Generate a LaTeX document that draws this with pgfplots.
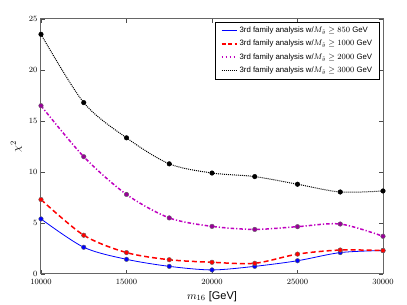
\documentclass[border=0pt]{standalone}
\usepackage{fontspec}
\setmainfont{Liberation Sans}
\usepackage{pgfplots}
\pgfplotsset{compat=1.18}
\definecolor{mpred}{rgb}{1,0,0}
\definecolor{mpmag}{rgb}{0.75,0,0.75}
\definecolor{mpmagm}{rgb}{0.6,0,0.6}
\definecolor{mpblue}{rgb}{0,0,1}
\begin{document}
\begin{tikzpicture}
\begin{axis}[
  scale only axis, width=342pt, height=255pt,
  xmin=10000, xmax=30000, ymin=0, ymax=25,
  xtick={10000,15000,...,30000}, ytick={0,5,...,25},
  scaled x ticks=false,
  x tick label style={/pgf/number format/1000 sep={}, yshift=-1.5pt},
  tick align=inside, major tick length=4pt,
  tick style={black!70, line width=0.6pt},
  ticklabel style={font=\footnotesize},
  axis line style={black!60, line width=1pt},
  xlabel={$m_{16}$ [GeV]}, ylabel={$\chi^2$},
  label style={font=\fontsize{11}{13}\selectfont},
  legend style={at={(rel axis cs:0.99,0.99)}, anchor=north east,
    font=\fontsize{7.8}{9}\selectfont, line width=0.8pt,
    inner xsep=5pt, inner ysep=3pt, row sep=2.2pt},
  legend cell align=left,
]
\addplot[color=mpblue, line width=0.8pt, smooth,
  legend image code/.code={\draw[draw=blue, line width=0.9pt] (0pt,0pt) -- (15pt,0pt);}] coordinates {
 (10000,5.4) (12500,2.62) (15000,1.44) (17500,0.75) (20000,0.4)
 (22500,0.75) (25000,1.3) (27500,2.1) (30000,2.3)};
\addlegendentry{3rd family analysis w/$M_{\tilde g}\geq 850$ GeV}
\addplot[color=mpred, line width=1.5pt, smooth, dash pattern=on 5pt off 3pt,
  legend image code/.code={\draw[draw=red, line width=1.8pt, dash pattern=on 4pt off 2.5pt] (0pt,0pt) -- (15pt,0pt);}] coordinates {
 (10000,7.3) (12500,3.8) (15000,2.1) (17500,1.4) (20000,1.15)
 (22500,1.05) (25000,1.95) (27500,2.35) (30000,2.3)};
\addlegendentry{3rd family analysis w/$M_{\tilde g}\geq 1000$ GeV}
\addplot[color=mpmag, line width=1.5pt, smooth, dash pattern=on 3.5pt off 2pt on 1.2pt off 2pt,
  legend image code/.code={\draw[draw=mpmag, line width=1.5pt, dash pattern=on 1.5pt off 2.5pt] (0pt,0pt) -- (15pt,0pt);}] coordinates {
 (10000,16.5) (12500,11.5) (15000,7.8) (17500,5.5) (20000,4.67)
 (22500,4.37) (25000,4.64) (27500,4.9) (30000,3.7)};
\addlegendentry{3rd family analysis w/$M_{\tilde g}\geq 2000$ GeV}
\addplot[color=black, line width=1pt, smooth, dash pattern=on 1pt off 1pt,
  legend image code/.code={\draw[draw=black, line width=0.9pt, dash pattern=on 1pt off 1pt] (0pt,0pt) -- (15pt,0pt);}] coordinates {
 (10000,23.5) (12500,16.8) (15000,13.35) (17500,10.8) (20000,9.9)
 (22500,9.55) (25000,8.8) (27500,8.04) (30000,8.14)};
\addlegendentry{3rd family analysis w/$M_{\tilde g}\geq 3000$ GeV}
\addplot[only marks, mark=*, mark size=2.3pt, mark options={fill=mpblue, draw=black!60, line width=0.4pt}, forget plot] coordinates {
 (10000,5.4) (12500,2.62) (15000,1.44) (17500,0.75) (20000,0.4)
 (22500,0.75) (25000,1.3) (27500,2.1) (30000,2.3)};
\addplot[only marks, mark=*, mark size=2.3pt, mark options={fill=mpred, draw=black!60, line width=0.4pt}, forget plot] coordinates {
 (10000,7.3) (12500,3.8) (15000,2.1) (17500,1.4) (20000,1.15)
 (22500,1.05) (25000,1.95) (27500,2.35) (30000,2.3)};
\addplot[only marks, mark=*, mark size=2.3pt, mark options={fill=mpmagm, draw=black!60, line width=0.4pt}, forget plot] coordinates {
 (10000,16.5) (12500,11.5) (15000,7.8) (17500,5.5) (20000,4.67)
 (22500,4.37) (25000,4.64) (27500,4.9) (30000,3.7)};
\addplot[only marks, mark=*, mark size=2.3pt, mark options={fill=black, draw=black, line width=0.4pt}, forget plot] coordinates {
 (10000,23.5) (12500,16.8) (15000,13.35) (17500,10.8) (20000,9.9)
 (22500,9.55) (25000,8.8) (27500,8.04) (30000,8.14)};
\end{axis}
\path ([shift={(-41pt,-31pt)}]current axis.south west) rectangle ([shift={(24pt,19pt)}]current axis.north east);
\end{tikzpicture}
\end{document}
